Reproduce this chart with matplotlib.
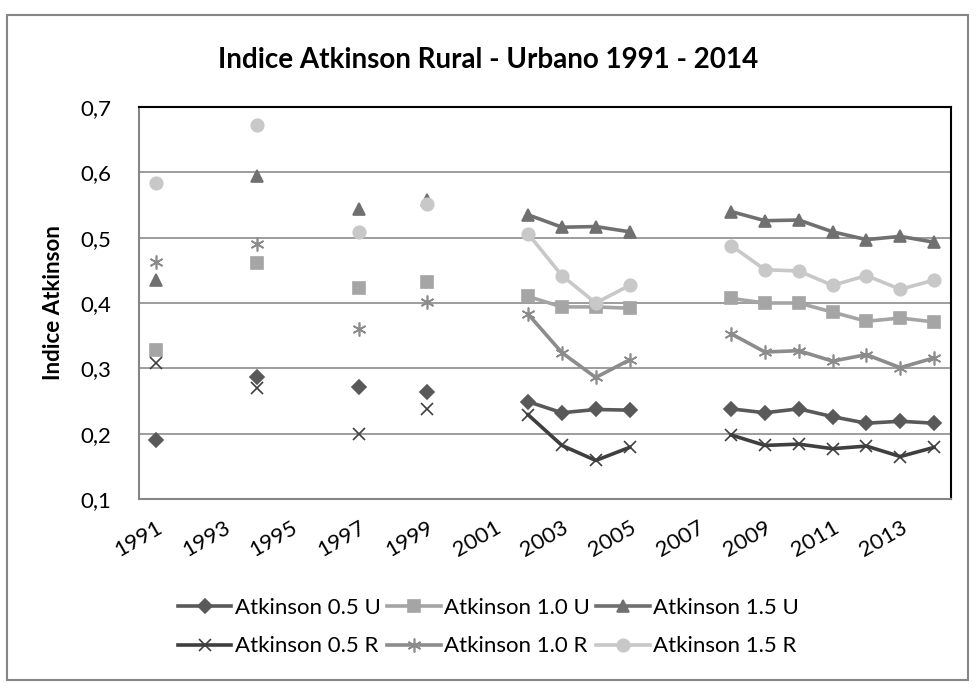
import numpy as np
import matplotlib
matplotlib.use("Agg")
import matplotlib.pyplot as plt
from matplotlib.patches import Rectangle
from matplotlib.ticker import FixedLocator, FuncFormatter

plt.rcParams["font.family"] = ["Lato", "DejaVu Sans"]

years = np.arange(1991, 2015)
nan = np.nan

# values per year 1991..2014 (NaN = no survey that year)
a05_u = [0.191, nan, nan, 0.286, nan, nan, 0.272, nan, 0.264, nan, nan, 0.249, 0.232, 0.237,
         0.236, nan, nan, 0.238, 0.232, 0.238, 0.226, 0.216, 0.219, 0.216]
a10_u = [0.328, nan, nan, 0.461, nan, nan, 0.423, nan, 0.432, nan, nan, 0.410, 0.394, 0.394,
         0.392, nan, nan, 0.407, 0.400, 0.400, 0.386, 0.372, 0.377, 0.371]
a15_u = [0.435, nan, nan, 0.595, nan, nan, 0.544, nan, 0.558, nan, nan, 0.535, 0.516, 0.517,
         0.509, nan, nan, 0.540, 0.526, 0.527, 0.509, 0.497, 0.502, 0.493]
a05_r = [0.308, nan, nan, 0.270, nan, nan, 0.200, nan, 0.238, nan, nan, 0.229, 0.182, 0.159,
         0.179, nan, nan, 0.198, 0.182, 0.184, 0.177, 0.181, 0.165, 0.179]
a10_r = [0.462, nan, nan, 0.491, nan, nan, 0.360, nan, 0.401, nan, nan, 0.383, 0.324, 0.286,
         0.313, nan, nan, 0.353, 0.325, 0.327, 0.311, 0.321, 0.301, 0.316]
a15_r = [0.584, nan, nan, 0.672, nan, nan, 0.508, nan, 0.551, nan, nan, 0.506, 0.442, 0.400,
         0.427, nan, nan, 0.488, 0.451, 0.449, 0.427, 0.442, 0.421, 0.435]

series = [
    ("Atkinson 0.5 U", a05_u, "#595959", "D", 7),
    ("Atkinson 1.0 U", a10_u, "#a5a5a5", "s", 8),
    ("Atkinson 1.5 U", a15_u, "#707070", "^", 9),
    ("Atkinson 0.5 R", a05_r, "#3f3f3f", "x", 9),
    ("Atkinson 1.0 R", a10_r, "#8c8c8c", (6, 2, 0), 10),
    ("Atkinson 1.5 R", a15_r, "#c8c8c8", "o", 9),
]

fig = plt.figure(figsize=(9.77, 6.88), dpi=100)
ax = fig.add_axes([139 / 977, 189 / 688, 812 / 977, 392 / 688])

handles = {}
for name, vals, col, mk, ms in series:
    h, = ax.plot(years, vals, color=col, lw=2.6, marker=mk, markersize=ms,
                 markeredgecolor=col, markerfacecolor=col, markeredgewidth=1.2,
                 label=name)
    handles[name] = h

ax.set_xlim(1990.5, 2014.5)
ax.set_ylim(0.1, 0.7)
ax.yaxis.set_major_locator(FixedLocator(np.arange(0.1, 0.71, 0.1)))
ax.yaxis.set_major_formatter(FuncFormatter(lambda v, p: f"{v:.1f}".replace(".", ",")))
ax.set_xticks(np.arange(1991, 2014, 2))
ax.set_xticklabels([str(y) for y in range(1991, 2014, 2)], rotation=30,
                   ha="right", rotation_mode="anchor", fontsize=16)
ax.tick_params(axis="y", length=0, pad=20, labelsize=16)
ax.tick_params(axis="x", length=0, pad=13)
ax.grid(axis="y", color="#8c8c8c", lw=1.2)
ax.set_axisbelow(True)

for s in ["left", "bottom"]:
    ax.spines[s].set_color("#868686")
    ax.spines[s].set_linewidth(1.5)
for s in ["top", "right"]:
    ax.spines[s].set_color("#000000")
    ax.spines[s].set_linewidth(1.5)

ax.set_ylabel("Indice Atkinson", fontsize=16, fontweight="bold", labelpad=12)
fig.text(0.5, 1 - 60 / 688, "Indice Atkinson Rural - Urbano 1991 - 2014",
         ha="center", va="center", fontsize=20, fontweight="bold")

order = ["Atkinson 0.5 U", "Atkinson 0.5 R", "Atkinson 1.0 U", "Atkinson 1.0 R",
         "Atkinson 1.5 U", "Atkinson 1.5 R"]
fig.legend([handles[n] for n in order], order, ncol=3, frameon=False,
           loc="center", bbox_to_anchor=(0.5, 1 - 627 / 688), fontsize=16,
           handlelength=2.4, handletextpad=0.15, columnspacing=0.3, labelspacing=0.85)

fig.patches.append(Rectangle((7 / 977, 8 / 688), 961 / 977, 665 / 688,
                             transform=fig.transFigure, fill=False,
                             edgecolor="#868686", lw=1.5))

fig.savefig("out.png", dpi=100)
